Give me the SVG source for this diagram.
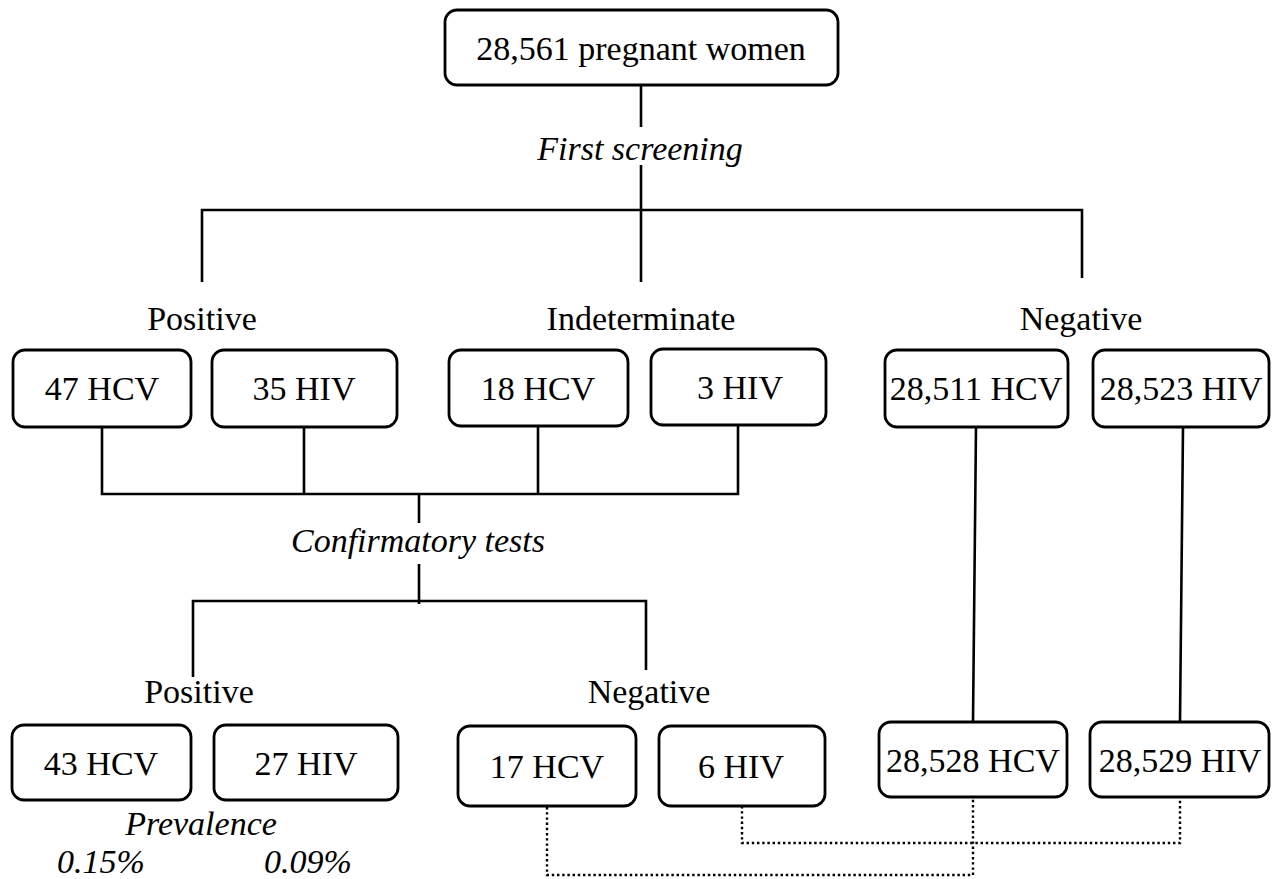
<svg xmlns="http://www.w3.org/2000/svg" width="1273" height="879" viewBox="0 0 1273 879">
<style>
.box{fill:#fff;stroke:#000;stroke-width:2.8}
.t{font-family:"Liberation Serif","Times New Roman",serif;font-size:34px;fill:#000;text-anchor:middle}
.i{font-style:italic}
.ln{fill:none;stroke:#000;stroke-width:2.6}
.dot{fill:none;stroke:#000;stroke-width:2.4;stroke-dasharray:2.4 2.8}
</style>
<rect width="1273" height="879" fill="#fff"/>
<g id="connectors">
<path class="ln" d="M641 85V127M641 165V282M202 282V210H1082V278"/>
<path class="ln" d="M102 427V494H738V426M304 427V494M538 426V494M419 494V523M419 564V604M193 677V601H646V670"/>
<path class="ln" d="M976 427L973 722M1183 427L1180 722"/>
<path class="dot" d="M547 807V875H973V797M742 806V843H1180V797"/>
</g>
<g id="labels">
<text class="t i" x="640" y="160">First screening</text>
<text class="t" x="202" y="330">Positive</text>
<text class="t" x="641" y="330">Indeterminate</text>
<text class="t" x="1081" y="330">Negative</text>
<text class="t i" x="418" y="552">Confirmatory tests</text>
<text class="t" x="199" y="703">Positive</text>
<text class="t" x="649" y="703">Negative</text>
<text class="t i" x="201" y="835">Prevalence</text>
<text class="t i" x="101" y="873">0.15%</text>
<text class="t i" x="308" y="873">0.09%</text>
</g>
<g id="n-top"><rect class="box" x="445" y="10" width="393" height="75" rx="12"/><text class="t" x="641" y="60">28,561 pregnant women</text></g>
<g id="n-pos-hcv"><rect class="box" x="13" y="350" width="178" height="77" rx="12"/><text class="t" x="102" y="400">47 HCV</text></g>
<g id="n-pos-hiv"><rect class="box" x="212" y="350" width="185" height="77" rx="12"/><text class="t" x="304" y="400">35 HIV</text></g>
<g id="n-ind-hcv"><rect class="box" x="449" y="350" width="179" height="76" rx="12"/><text class="t" x="538" y="400">18 HCV</text></g>
<g id="n-ind-hiv"><rect class="box" x="651" y="349" width="175" height="76" rx="12"/><text class="t" x="740" y="399">3 HIV</text></g>
<g id="n-neg-hcv"><rect class="box" x="885" y="350" width="183" height="77" rx="12"/><text class="t" x="976" y="400">28,511 HCV</text></g>
<g id="n-neg-hiv"><rect class="box" x="1093" y="350" width="176" height="77" rx="12"/><text class="t" x="1181" y="400">28,523 HIV</text></g>
<g id="n-cpos-hcv"><rect class="box" x="12" y="725" width="179" height="75" rx="12"/><text class="t" x="101" y="775">43 HCV</text></g>
<g id="n-cpos-hiv"><rect class="box" x="214" y="725" width="184" height="75" rx="12"/><text class="t" x="306" y="775">27 HIV</text></g>
<g id="n-cneg-hcv"><rect class="box" x="458" y="726" width="178" height="80" rx="12"/><text class="t" x="547" y="778">17 HCV</text></g>
<g id="n-cneg-hiv"><rect class="box" x="659" y="726" width="166" height="80" rx="12"/><text class="t" x="741" y="778">6 HIV</text></g>
<g id="n-fin-hcv"><rect class="box" x="879" y="722" width="188" height="75" rx="12"/><text class="t" x="973" y="772">28,528 HCV</text></g>
<g id="n-fin-hiv"><rect class="box" x="1090" y="722" width="179" height="75" rx="12"/><text class="t" x="1180" y="772">28,529 HIV</text></g>
</svg>
